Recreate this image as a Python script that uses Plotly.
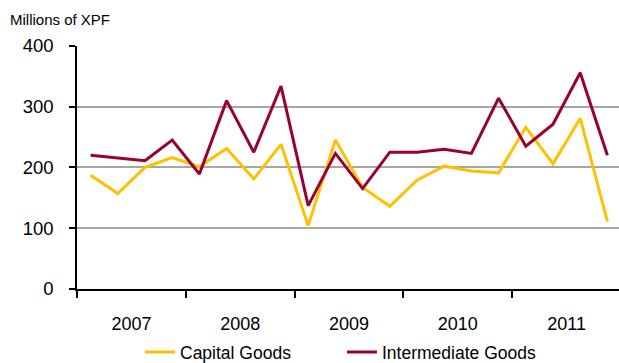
import plotly.graph_objects as go

quarters = ["2007Q1", "2007Q2", "2007Q3", "2007Q4",
            "2008Q1", "2008Q2", "2008Q3", "2008Q4",
            "2009Q1", "2009Q2", "2009Q3", "2009Q4",
            "2010Q1", "2010Q2", "2010Q3", "2010Q4",
            "2011Q1", "2011Q2", "2011Q3", "2011Q4"]
years = ["2007", "2008", "2009", "2010", "2011"]
capital_goods = [187, 157, 200, 216, 201, 231, 181, 238, 104,
                 245, 167, 136, 179, 202, 194, 191, 266, 206, 281, 111]
intermediate_goods = [220, 216, 211, 245, 189, 310, 225, 334, 137,
                      223, 165, 225, 225, 230, 223, 314, 235, 271, 356, 220]

x_idx = list(range(len(quarters)))
per_year = 4
year_centers = [i * per_year + (per_year - 1) / 2 for i in range(len(years))]
year_bounds = [i * per_year - 0.5 for i in range(len(years) + 1)]

FONT = "Liberation Sans, Arial, sans-serif"

fig = go.Figure()
fig.add_trace(go.Scatter(x=x_idx, y=capital_goods, mode="lines", name="Capital Goods",
                         line=dict(color="#FFC000", width=3)))
fig.add_trace(go.Scatter(x=x_idx, y=intermediate_goods, mode="lines", name="Intermediate Goods",
                         line=dict(color="#990033", width=3)))

fig.update_layout(
    width=619, height=363,
    margin=dict(l=77, r=0, t=46, b=73),
    paper_bgcolor="white", plot_bgcolor="white",
    font=dict(family=FONT, size=18, color="black"),
    showlegend=True,
    legend=dict(orientation="h", x=(140 - 77) / 542, xref="paper", y=0.03, yref="container",
                xanchor="left", yanchor="middle",
                font=dict(family=FONT, size=17.5, color="black"),
                entrywidth=157, entrywidthmode="pixels",
                itemwidth=30, traceorder="normal"),
    xaxis=dict(range=[-0.5, -0.5 + (619 - 77) / 27.2],
               tickmode="array", tickvals=year_centers, ticktext=years,
               ticks="", ticklabelstandoff=18,
               showgrid=False, zeroline=False,
               showline=True, linecolor="black", linewidth=1.5,
               minor=dict(tickmode="array", tickvals=year_bounds, ticks="outside",
                          ticklen=7, tickwidth=1.5, tickcolor="black", showgrid=False),
               tickfont=dict(size=18)),
    yaxis=dict(range=[0, 400], tickvals=[0, 100, 200, 300, 400],
               ticks="outside", ticklen=6, tickwidth=1.5, tickcolor="black",
               ticklabelstandoff=12,
               showgrid=True, gridcolor="#a6a6a6", gridwidth=1.5,
               zeroline=False, showline=True, linecolor="black", linewidth=1.5,
               tickfont=dict(size=18.5)),
)

fig.add_annotation(text="Millions of XPF", xref="paper", yref="paper",
                   x=-(77 - 8) / 542, y=1 + (46 - 19) / 244, xanchor="left", yanchor="middle",
                   showarrow=False, font=dict(family=FONT, size=15, color="black"))

fig.write_html("out.html")
